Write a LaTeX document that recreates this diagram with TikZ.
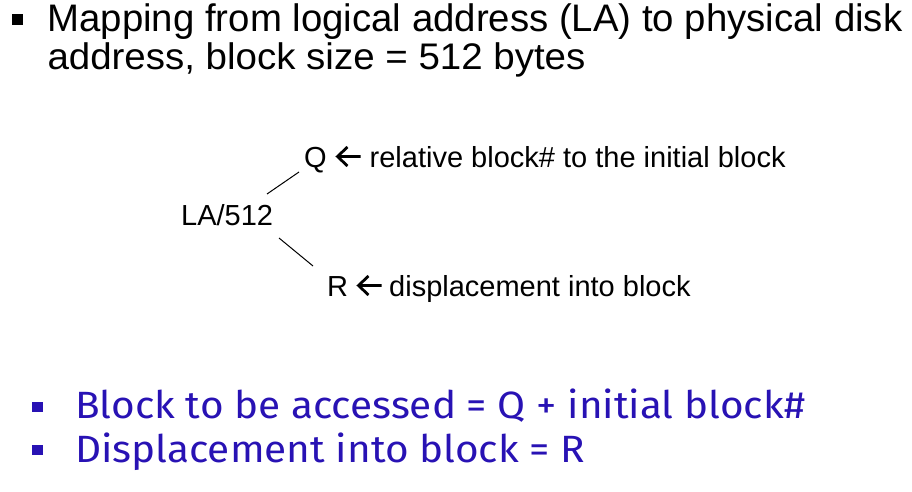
\documentclass[tikz,border=0pt]{standalone}
\usepackage{fontspec}
\setmainfont{Liberation Sans}
\newfontfamily\comicf{Fira Sans}
\definecolor{slideblue}{RGB}{40,18,180}
\begin{document}
\begin{tikzpicture}[x=1pt,y=-1pt,
  txt/.style={anchor=base west, inner sep=0pt},
  titlef/.style={font=\fontsize{37}{40}\selectfont},
  midf/.style={font=\fontsize{29}{33}\selectfont},
  bluef/.style={font=\comicf\fontsize{38}{42}\selectfont, text=slideblue},
  link/.style={draw=black, line width=1pt},
  fatarrow/.style={draw=black, line width=2.8pt, line join=miter}]
\useasboundingbox (0,0) rectangle (912,492);
\fill[black] (12,14) rectangle (23,25);
\node[txt, titlef] (t1) at (47.3,31.7) {\resizebox{855pt}{!}{\strut Mapping from logical address (LA) to physical disk}};
\node[txt, titlef] (t2) at (47.3,70) {\scalebox{1.04}[1]{address, block size = 512 bytes}};
\node[txt, midf] (q) at (304,167) {Q};
\node[txt, midf] (qdesc) at (369.5,167) {relative block\# to the initial block};
\node[txt, midf] (la) at (181,225) {LA/512};
\node[txt, midf] (r) at (327,296) {R};
\node[txt, midf] (rdesc) at (389,296) {displacement into block};
% arrows
\coordinate (qa1) at (360.5,156.5);
\coordinate (qa2) at (337.5,156.5);
\draw[fatarrow] (qa1) -- (qa2) ++(10,-9.5) -- (qa2) -- ++(10,9.5);
\coordinate (ra1) at (381.5,285.5);
\coordinate (ra2) at (358.5,285.5);
\draw[fatarrow] (ra1) -- (ra2) ++(10,-9.5) -- (ra2) -- ++(10,9.5);
% branch lines
\coordinate (l1a) at (267,194);
\coordinate (l1b) at (299,172);
\coordinate (l2a) at (279,238);
\coordinate (l2b) at (313,266);
\draw[link] (l1a) -- (l1b);
\draw[link] (l2a) -- (l2b);
\fill[slideblue] (32,402) rectangle (42.5,411.5);
\fill[slideblue] (32,444.5) rectangle (42.5,454.5);
\node[txt, bluef] (b1) at (75,418.5) {\scalebox{1.066}[1]{Block to be accessed = Q + initial block\#}};
\node[txt, bluef] (b2) at (75,462) {\scalebox{1.066}[1]{Displacement into block = R}};
\end{tikzpicture}
\end{document}
